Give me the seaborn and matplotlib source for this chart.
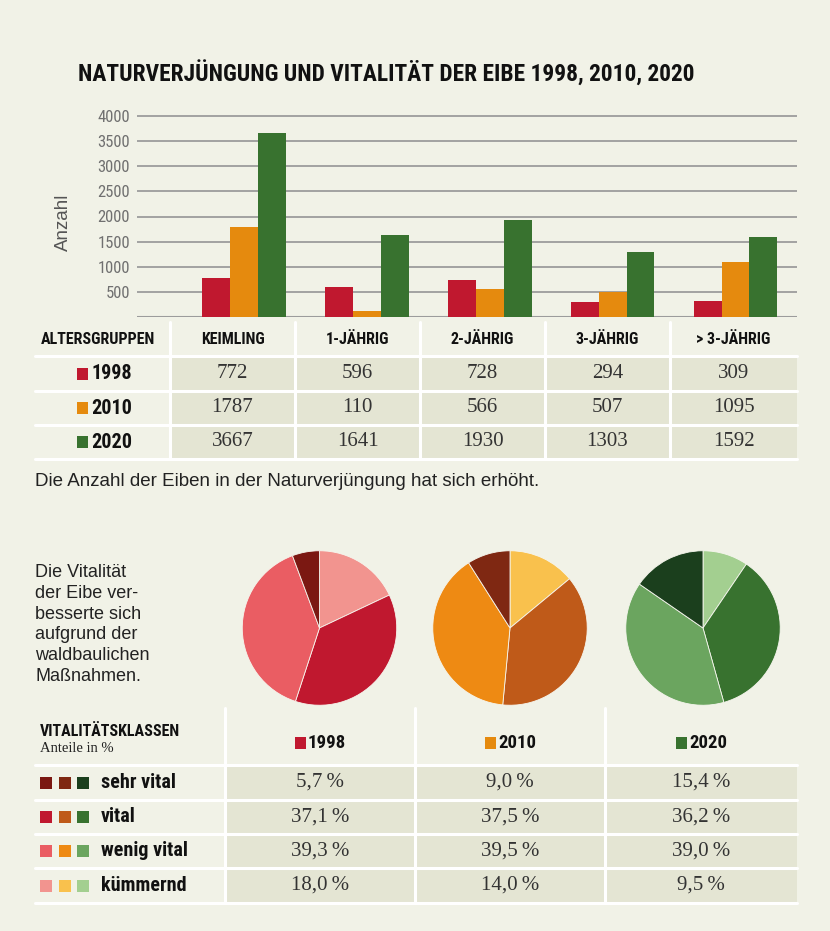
import numpy as np
import pandas as pd
import matplotlib
matplotlib.use("Agg")
import matplotlib.pyplot as plt
from matplotlib import font_manager
from matplotlib.patches import Rectangle
import seaborn as sns

# ---- data ----
altersgruppen = ["KEIMLING", "1-JÄHRIG", "2-JÄHRIG", "3-JÄHRIG", "> 3-JÄHRIG"]
jahre = ["1998", "2010", "2020"]
anzahl_1998 = [772, 596, 728, 294, 309]
anzahl_2010 = [1787, 110, 566, 507, 1095]
anzahl_2020 = [3667, 1641, 1930, 1303, 1592]
y_ticks = [500, 1000, 1500, 2000, 2500, 3000, 3500, 4000]

klassen = ["sehr vital", "vital", "wenig vital", "kümmernd"]
anteile_1998 = [5.7, 37.1, 39.3, 18.0]
anteile_2010 = [9.0, 37.5, 39.5, 14.0]
anteile_2020 = [15.4, 36.2, 39.0, 9.5]

text_block = ["Die Vitalität", "der Eibe ver-", "besserte sich", "aufgrund der",
              "waldbaulichen", "Maßnahmen."]

# ---- colours ----
BG = "#f1f2e7"
CELL = "#e4e5d3"
year_colors = {"1998": "#c0182f", "2010": "#e58a0e", "2020": "#38722f"}
klassen_colors = {
    "1998": ["#7b1812", "#c0182f", "#ea5d63", "#f2948f"],
    "2010": ["#7f2812", "#bf5a19", "#ee8a13", "#f9c14d"],
    "2020": ["#1b3f1d", "#38722f", "#6ba55f", "#a3cf90"],
}

# ---- fonts ----
sns.set_style("white")
names = {f.name for f in font_manager.fontManager.ttflist}
NARROW = "Roboto"
for cand in ["Liberation Sans Narrow", "Roboto Condensed", "Open Sans Condensed"]:
    if cand in names:
        NARROW = cand
        break
SANS = ["Liberation Sans", "DejaVu Sans"]
SERIF = ["Liberation Serif", "DejaVu Serif"]
plt.rcParams["font.family"] = SANS

W, H = 830, 931
fig = plt.figure(figsize=(W / 100, H / 100), dpi=100, facecolor=BG)

# full-figure axes in pixel coordinates for tables and texts
bg = fig.add_axes([0, 0, 1, 1])
bg.set_xlim(0, W)
bg.set_ylim(H, 0)
bg.axis("off")
bg.set_zorder(0)


def px_axes(l, t, r, b):
    return fig.add_axes([l / W, 1 - b / H, (r - l) / W, (b - t) / H])


# ---- title ----
title = bg.text(78, 74, "NATURVERJÜNGUNG UND VITALITÄT DER EIBE 1998, 2010, 2020",
                family=NARROW, fontweight="bold", fontsize=20, color="#111",
                ha="left", va="center")
fig.canvas.draw()
w = title.get_window_extent().width
title.set_fontsize(title.get_fontsize() * 615 / w)

# ---- bar chart ----
rows = []
for jahr, werte in zip(jahre, [anzahl_1998, anzahl_2010, anzahl_2020]):
    for g, v in zip(altersgruppen, werte):
        rows.append({"Altersgruppe": g, "Jahr": jahr, "Anzahl": v})
df = pd.DataFrame(rows)

ax = px_axes(137, 317 - 201 * 4050 / 4000, 797, 317)
ax.set_zorder(1)
ax.patch.set_alpha(0)
sns.barplot(data=df, x="Altersgruppe", y="Anzahl", hue="Jahr", palette=year_colors,
            width=0.68, gap=0, saturation=1, legend=False, linewidth=0, ax=ax)
ax.set_xlim(-0.87, 4.5)
ax.set_ylim(0, 4050)
ax.set_yticks(y_ticks)
ax.set_yticklabels([str(t) for t in y_ticks], family=NARROW, fontsize=12, color="#707070")
ax.set_xticks([])
ax.set_xlabel("")
ax.set_ylabel("")
ax.tick_params(axis="y", length=0, pad=5)
ax.yaxis.grid(True, color="#9c9c9c", lw=1.3)
ax.axhline(0, color="#9c9c9c", lw=1.5, zorder=0)
ax.set_axisbelow(True)
sns.despine(ax=ax, left=True, bottom=True)
bg.text(63, 222, "Anzahl", rotation=90, ha="center", va="center",
        fontsize=13.5, color="#555")

# ---- table 1 ----
cx = [35, 170, 295, 420, 545, 670, 797]
ry = [322, 356, 391, 425, 459]
bg.add_patch(Rectangle((cx[1], ry[1]), cx[-1] - cx[1], ry[-1] - ry[1], color=CELL, lw=0))
for y in ry[1:]:
    bg.plot([cx[0], cx[-1]], [y, y], color="white", lw=2.2)
for x in cx[1:-1]:
    bg.plot([x, x], [ry[0], ry[-1]], color="white", lw=2.2)

bg.text(98, 340, "ALTERSGRUPPEN", family=NARROW, fontweight="bold", fontsize=11.5,
        color="#111", ha="center", va="center")
for i, g in enumerate(altersgruppen):
    bg.text((cx[i + 1] + cx[i + 2]) / 2, 340, g, family=NARROW, fontweight="bold",
            fontsize=11.5, color="#111", ha="center", va="center")

for r, (jahr, werte) in enumerate(zip(jahre, [anzahl_1998, anzahl_2010, anzahl_2020])):
    yc = (ry[r + 1] + ry[r + 2]) / 2
    bg.add_patch(Rectangle((77, yc - 6), 11, 12, color=year_colors[jahr], lw=0))
    bg.text(91, yc, jahr, family=NARROW, fontweight="bold", fontsize=14.5,
            color="#111", ha="left", va="center")
    for i, v in enumerate(werte):
        bg.text((cx[i + 1] + cx[i + 2]) / 2, yc, str(v), family=SERIF, fontsize=15,
                color="#333", ha="center", va="center")

bg.text(35, 482, "Die Anzahl der Eiben in der Naturverjüngung hat sich erhöht.",
        fontsize=13.5, color="#222", ha="left", va="center")

# ---- pies ----
bg.text(35, 564, "\n".join(text_block), fontsize=13, color="#222", ha="left",
        va="top", linespacing=1.29)

pie_x = {"1998": 319.5, "2010": 510, "2020": 703}
order = [3, 1, 2, 0]  # kümmernd, vital, wenig vital, sehr vital (clockwise from top)
for jahr, werte in zip(jahre, [anteile_1998, anteile_2010, anteile_2020]):
    c = pie_x[jahr]
    pax = px_axes(c - 78, 550, c + 78, 706)
    pax.set_zorder(1)
    pax.pie([werte[k] for k in order], colors=[klassen_colors[jahr][k] for k in order],
            startangle=90, counterclock=False,
            wedgeprops={"linewidth": 0.6, "edgecolor": "#f6f6ee"})
    pax.set_xlim(-1.01, 1.01)
    pax.set_ylim(-1.01, 1.01)

# ---- table 2 ----
tx = [35, 225, 415, 605, 797]
ty = [708, 765, 800, 834, 868, 903]
bg.add_patch(Rectangle((tx[1], ty[1]), tx[-1] - tx[1], ty[-1] - ty[1], color=CELL, lw=0))
for y in ty[1:]:
    bg.plot([tx[0], tx[-1]], [y, y], color="white", lw=2.2)
for x in tx[1:-1]:
    bg.plot([x, x], [ty[0], ty[-1]], color="white", lw=2.2)

bg.text(40, 731, "VITALITÄTSKLASSEN", family=NARROW, fontweight="bold", fontsize=11.5,
        color="#111", ha="left", va="center")
bg.text(40, 749, "Anteile in %", family=SERIF, fontsize=10.5, color="#222",
        ha="left", va="center")
for i, jahr in enumerate(jahre):
    xc = (tx[i + 1] + tx[i + 2]) / 2
    bg.add_patch(Rectangle((xc - 25, 737), 11, 12, color=year_colors[jahr], lw=0))
    bg.text(xc - 12, 743, jahr, family=NARROW, fontweight="bold", fontsize=13.5,
            color="#111", ha="left", va="center")

for r, kl in enumerate(klassen):
    yc = (ty[r + 1] + ty[r + 2]) / 2
    for j, jahr in enumerate(jahre):
        bg.add_patch(Rectangle((40 + 18.5 * j, yc - 6), 12, 12,
                               color=klassen_colors[jahr][r], lw=0))
    bg.text(101, yc, kl, family=NARROW, fontweight="bold", fontsize=14.5,
            color="#111", ha="left", va="center")
    for i, werte in enumerate([anteile_1998, anteile_2010, anteile_2020]):
        lab = f"{werte[r]:.1f}".replace(".", ",") + "\u2009%"
        bg.text((tx[i + 1] + tx[i + 2]) / 2, yc, lab, family=SERIF, fontsize=15,
                color="#333", ha="center", va="center")

fig.savefig("out.png", dpi=100, facecolor=BG)
